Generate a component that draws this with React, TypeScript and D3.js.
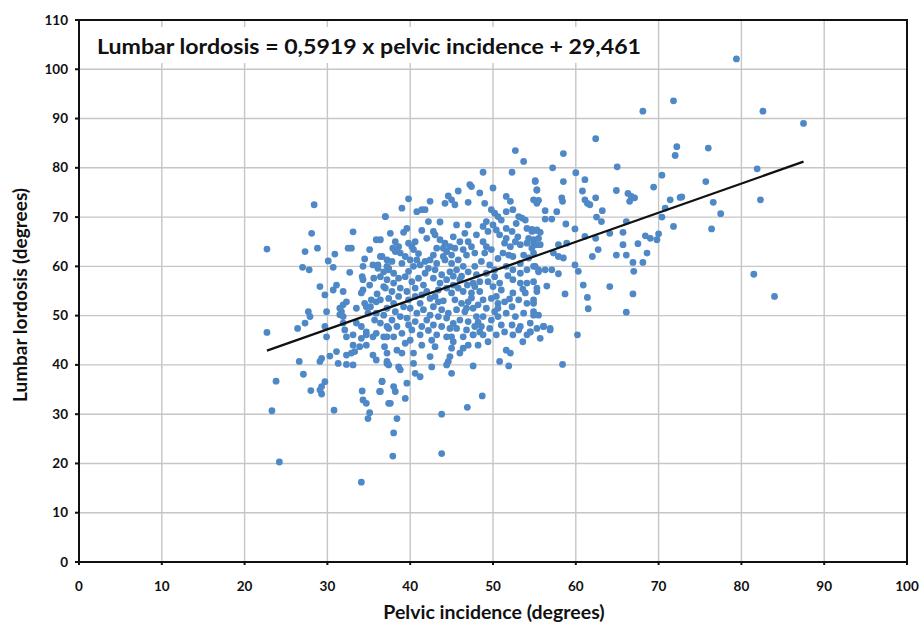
import React from "react";
import * as d3 from "d3";

// [pelvic incidence, lumbar lordosis], grouped by region
const leftWing: [number, number][] = [
  [28.4,72.5],[37.0,70.1],[28.1,66.7],[33.1,67.0],[35.9,65.4],[22.7,63.5],[27.3,63.0],[28.8,63.7],
  [32.5,63.7],[32.9,63.7],[35.1,63.4],[30.9,62.5],[30.1,61.1],[27.0,59.8],[27.8,59.3],[30.7,59.8],
  [32.7,58.8],[34.5,61.5],[34.3,60.0],[34.2,57.9],[34.3,57.3],[35.5,60.3],[36.1,60.3],[36.6,62.0],
  [37.2,60.0],[37.4,59.3],[29.1,55.9],[31.1,56.2],[30.7,55.2],[29.7,54.2],[31.9,54.9],[34.3,55.2],
  [34.1,54.6],[35.1,56.2],[36.8,55.9],[32.3,52.8],[31.9,52.2],[31.5,51.5],[31.7,50.8],[31.5,50.2],
  [31.9,49.8],[33.5,51.5],[34.5,52.5],[34.7,51.8],[35.3,53.2],[35.9,52.8],[34.9,50.5],[35.9,50.5],
  [35.7,49.1],[29.9,50.8],[27.7,50.8],[27.9,49.8],[27.3,48.5],[26.4,47.4],[29.7,47.8],[22.7,46.6],
  [31.9,48.5],[32.1,47.1],[32.3,45.7],[33.5,48.5],[34.1,47.8],[34.7,46.7],[35.9,46.4],[35.5,45.7],
  [37.2,47.8],[36.8,45.7],[29.9,45.7],
];
const leftLow: [number, number][] = [
  [33.1,46.1],[34.1,45.4],[34.7,46.1],[37.2,45.7],[33.1,44.0],[33.9,43.7],[34.7,44.0],[31.1,42.7],
  [32.3,42.0],[32.9,42.4],[33.3,42.7],[30.3,41.8],[29.3,41.3],[29.1,40.7],[26.6,40.7],[31.3,40.3],
  [32.3,40.1],[33.1,40.0],[35.5,42.0],[35.9,41.0],[37.2,42.4],[37.2,40.3],[27.1,38.1],[23.8,36.7],
  [29.7,36.6],[29.3,35.6],[29.1,34.9],[29.3,34.1],[28.0,34.8],[34.2,34.7],[36.3,34.6],[36.6,36.7],
  [34.3,32.9],[34.7,32.2],[35.1,30.3],[34.9,29.1],[37.4,32.2],[23.3,30.7],[30.8,30.8],[24.2,20.3],
  [34.1,16.2],
];
const middleLow: [number, number][] = [
  [39.0,42.4],[37.2,40.7],[37.4,40.0],[38.6,39.6],[38.8,39.0],[40.4,40.3],[40.6,38.3],[41.2,37.6],
  [42.6,39.6],[44.4,40.0],[44.6,40.7],[44.8,41.7],[45.0,38.3],[45.0,43.4],[45.0,45.7],[46.4,43.4],
  [47.0,44.0],[48.2,44.0],[47.6,46.1],[48.4,46.7],[47.6,39.8],[50.8,40.7],[51.6,43.0],[52.1,42.4],
  [51.9,39.8],[51.4,46.7],[53.1,47.1],[54.5,46.7],[36.6,36.6],[36.4,34.6],[38.0,35.6],[38.2,34.6],
  [39.6,36.3],[39.4,33.2],[37.6,32.2],[38.4,29.1],[38.0,26.2],[37.9,21.5],[43.8,30.0],[43.8,22.0],
  [46.9,31.4],[48.7,33.7],[56.1,47.8],[56.9,47.1],[55.7,45.4],[60.2,46.1],[58.4,40.1],
];
const rightWing: [number, number][] = [
  [62.4,85.9],[72.2,84.3],[72.0,82.5],[58.5,82.9],[57.2,80.0],[65.0,80.2],[60.0,79.0],[70.4,78.5],
  [55.1,77.4],[58.5,77.2],[61.1,77.6],[55.3,75.5],[55.5,73.4],[60.8,75.3],[64.9,75.4],[69.4,76.1],
  [58.3,73.9],[58.4,73.2],[61.1,73.5],[61.4,72.8],[61.7,72.5],[62.4,73.9],[66.3,74.8],[66.7,74.2],
  [67.1,73.9],[66.5,73.2],[71.4,73.5],[72.6,74.0],[56.3,71.3],[57.7,71.1],[63.2,71.3],[70.8,71.8],
  [70.4,70.0],[56.3,69.6],[57.1,69.6],[62.5,70.0],[63.1,69.1],[66.1,69.1],[58.8,68.6],[71.8,68.1],
  [59.9,67.6],[54.7,67.5],[55.1,67.3],[55.7,66.9],[64.1,66.7],[65.7,66.9],[61.1,66.1],[62.4,65.7],
  [68.4,66.2],[69.0,65.7],[69.8,65.4],[70.0,66.6],[55.5,65.7],[55.7,64.4],[54.9,64.7],[57.9,64.4],
  [58.9,64.7],[65.7,64.4],[67.5,64.6],[62.7,63.4],[57.3,62.7],[57.9,62.0],[58.5,61.7],[62.0,62.0],
  [64.9,62.3],[66.1,62.3],[68.6,62.7],[66.9,60.8],[68.1,60.8],[55.1,60.0],[55.5,59.3],[56.3,59.3],
  [57.1,59.3],[59.9,60.3],[60.3,59.0],[57.9,58.5],[67.0,59.0],[60.9,56.2],[64.1,55.9],[56.5,56.0],
  [55.3,54.9],[58.7,54.4],[61.4,53.7],[61.5,51.4],[66.9,54.4],[54.9,52.5],[66.1,50.7],[54.9,50.1],
  [55.5,50.1],[56.1,47.8],[56.9,47.4],[54.5,46.7],
];
const farRight: [number, number][] = [
  [79.4,102.1],[82.6,91.5],[87.5,89.0],[76.0,84.0],[81.9,79.8],[75.7,77.2],[72.8,74.1],[82.3,73.5],
  [76.6,73.0],[77.5,70.7],[76.4,67.6],[81.5,58.4],[84.0,53.9],[71.8,93.6],[68.1,91.5],[52.7,83.5],
];
const coreUpper: [number, number][] = [
  [53.7,81.3],[48.8,79.1],[52.3,79.1],[55.1,77.2],[47.2,76.6],[47.4,76.2],[45.8,75.3],[48.4,74.9],
  [50.0,75.9],[55.3,75.5],[44.6,74.3],[45.0,73.5],[51.6,74.2],[52.1,73.2],[39.8,73.7],[42.4,73.2],
  [44.2,72.8],[45.4,72.5],[47.0,73.0],[49.0,72.8],[54.9,73.5],[55.3,72.8],[39.0,71.8],[37.0,70.1],
  [40.8,71.1],[41.4,71.5],[41.8,71.5],[49.8,71.5],[50.2,70.8],[50.6,70.1],[51.0,69.4],[51.6,71.1],
  [52.4,71.5],[53.1,70.1],[53.5,69.8],[53.9,69.4],[42.2,69.1],[43.6,69.0],[45.6,68.4],[47.0,68.4],
  [49.2,69.1],[48.8,68.1],[49.4,67.1],[41.4,67.3],[42.8,67.1],[43.0,66.4],[39.2,66.9],[50.4,67.4],
  [50.8,66.4],[51.6,67.7],[52.3,67.1],[51.6,65.7],[54.1,67.7],[54.7,67.1],[55.3,67.4],[54.3,65.7],
  [54.9,65.4],[36.4,65.4],[38.2,65.0],[38.6,64.0],[38.2,63.0],[38.8,62.7],[39.8,64.7],[40.2,64.0],
  [40.4,63.4],[43.6,65.4],[44.2,64.7],[44.8,64.0],[45.4,63.7],[44.0,63.7],[44.4,63.0],[45.0,62.3],
  [46.0,65.0],[47.0,65.0],[47.4,64.0],[46.4,63.4],[48.8,65.0],[49.2,64.0],[49.8,63.4],[49.0,62.7],
  [51.4,64.7],[52.1,64.0],[52.7,65.0],[53.3,64.4],[54.1,64.7],[54.7,63.7],[55.3,64.4],[51.2,62.7],
  [51.9,62.3],[52.4,62.0],[53.7,62.3],[54.3,61.7],[54.9,62.7],
];
const coreMiddle: [number, number][] = [
  [36.4,62.0],[37.2,61.3],[37.8,61.0],[37.4,59.6],[38.0,58.6],[36.8,58.9],[39.4,62.0],[40.0,61.3],
  [40.8,61.3],[40.4,60.0],[41.2,60.3],[41.8,61.0],[42.8,62.3],[42.4,61.3],[43.2,60.6],[42.2,59.6],
  [43.0,59.3],[44.2,61.3],[45.0,60.6],[45.8,61.3],[46.4,60.0],[45.6,59.3],[47.0,58.9],[47.8,60.0],
  [48.0,58.3],[48.6,61.0],[49.6,60.3],[50.2,59.3],[49.2,58.6],[51.6,60.0],[52.4,59.3],[53.3,58.6],
  [54.1,59.3],[54.9,60.0],[55.5,58.9],[36.4,57.9],[37.2,57.3],[38.0,56.6],[38.6,57.6],[37.0,55.6],
  [37.8,54.9],[39.4,57.9],[40.2,56.9],[41.0,57.6],[41.6,56.2],[40.6,55.6],[42.0,54.9],[39.6,54.9],
  [42.8,57.6],[43.6,56.6],[44.4,57.3],[43.4,55.2],[44.4,55.6],[45.2,56.2],[45.0,54.6],[46.0,57.3],
  [46.9,56.2],[47.6,56.6],[48.4,56.9],[46.4,54.9],[47.4,54.6],[48.4,54.9],[49.4,56.9],[50.2,57.9],
  [50.0,55.9],[51.0,55.2],[50.4,53.9],[52.4,57.3],[53.3,56.6],[54.1,56.6],[54.9,56.9],[55.3,55.6],
  [53.9,54.6],[52.4,54.6],
];
const coreLower: [number, number][] = [
  [36.4,53.2],[37.4,53.5],[38.0,52.5],[37.2,51.5],[38.2,50.8],[36.8,50.1],[37.8,49.1],[38.8,49.8],
  [38.4,47.8],[37.4,47.4],[39.0,46.4],[38.0,45.7],[39.8,53.2],[40.6,53.9],[41.2,52.5],[40.0,51.5],
  [40.8,50.5],[41.6,51.2],[39.6,49.5],[40.6,48.8],[41.4,47.8],[40.2,47.1],[41.2,46.1],[42.4,53.5],
  [43.4,52.8],[42.8,51.8],[43.8,51.2],[42.4,50.1],[43.4,49.8],[44.4,49.5],[42.8,48.1],[43.8,47.8],
  [44.8,47.4],[43.2,46.1],[44.4,45.7],[45.4,53.2],[46.2,52.5],[47.0,52.8],[45.6,51.2],[46.6,50.8],
  [47.6,51.5],[46.0,49.1],[47.0,48.8],[48.0,49.8],[45.6,47.4],[46.8,47.1],[47.8,47.8],[46.4,45.7],
  [47.6,46.1],[48.8,53.2],[49.8,53.5],[50.6,52.5],[49.2,51.5],[50.2,50.8],[48.8,49.8],[49.8,49.1],
  [50.6,49.8],[48.6,47.8],[49.6,47.4],[48.8,46.1],[51.4,52.8],[52.3,51.8],[53.1,53.2],[54.1,52.5],
  [54.9,53.2],[51.6,50.5],[52.7,49.8],[53.7,50.5],[54.9,50.8],[52.3,48.1],[53.3,47.8],[54.5,48.5],
  [55.3,47.4],[52.4,46.1],[54.1,46.1],
];
const coreFill: [number, number][] = [
  [39.0,60.6],[39.8,59.0],[41.8,58.6],[43.8,58.3],[44.8,58.9],[46.2,58.0],[38.8,55.6],[41.4,54.2],
  [43.0,53.9],[44.0,53.0],[45.8,55.6],[47.8,55.9],[48.2,52.2],[46.8,51.5],[44.6,50.5],[42.0,49.1],
  [39.2,51.8],[38.6,53.9],[40.0,45.0],[42.6,45.0],[45.2,44.7],[43.0,43.7],[41.4,44.0],[39.4,44.4],
  [36.9,43.7],[44.0,62.0],[46.8,62.3],[47.8,62.7],[43.2,63.7],[41.0,62.6],[40.6,65.0],[42.0,65.7],
  [45.2,66.0],[46.6,66.7],[48.0,66.4],[50.0,68.4],[53.0,66.0],[52.8,68.7],[50.6,61.6],[53.3,60.6],
  [51.8,58.1],[50.8,56.6],[53.6,55.4],[52.0,53.4],[50.6,51.5],[47.4,53.6],[45.2,58.0],[39.6,67.7],
  [37.6,66.7],[37.9,63.7],[36.1,59.6],[35.6,57.6],[36.0,54.4],[35.2,51.8],[36.4,48.5],[39.8,48.1],
  [42.2,47.0],[45.2,48.4],[48.2,48.7],[51.0,48.1],[50.4,46.1],[49.4,44.7],[53.6,44.7],[46.0,42.4],
  [42.4,41.7],[40.4,42.4],[38.4,43.0],
];

const xTicks = [0, 10, 20, 30, 40, 50, 60, 70, 80, 90, 100];
const yTicks = [0, 10, 20, 30, 40, 50, 60, 70, 80, 90, 100, 110];
const slope = 0.5919;
const intercept = 29.461;
const fitRange = [22.7, 87.5];
const equation = "Lumbar lordosis = 0,5919 x pelvic incidence + 29,461";
const xTitle = "Pelvic incidence (degrees)";
const yTitle = "Lumbar lordosis (degrees)";

const W = 920, H = 624;
const L = 79, R = 907, T = 20, B = 562;
const FONT = "Lato, 'Open Sans', sans-serif";

export default function App() {
  const x = d3.scaleLinear().domain([0, 100]).range([L, R]);
  const y = d3.scaleLinear().domain([0, 110]).range([B, T]);
  const all = [...leftWing, ...leftLow, ...middleLow, ...rightWing, ...farRight, ...coreUpper, ...coreMiddle, ...coreLower, ...coreFill];
  const line = d3.line<number>().x((v) => x(v)).y((v) => y(slope * v + intercept));
  return (
    <svg width={W} height={H} style={{ position: "absolute", left: 0, top: 0, background: "#fff" }} fontFamily={FONT}>
      <rect x={0} y={0} width={W} height={H} fill="#fff" />
      {xTicks.slice(1, -1).map((t) => (
        <line key={"gx" + t} x1={x(t)} x2={x(t)} y1={T} y2={B} stroke="#c6c6c6" strokeWidth={1.4} />
      ))}
      {yTicks.slice(1, -1).map((t) => (
        <line key={"gy" + t} x1={L} x2={R} y1={y(t)} y2={y(t)} stroke="#c6c6c6" strokeWidth={1.4} />
      ))}
      <rect x={94} y={27} width={552} height={36} fill="#fff" />
      <text x={97} y={54} fontSize={21} fontWeight={700} fill="#111" textLength={544} lengthAdjust="spacingAndGlyphs">{equation}</text>
      {all.map((p, i) => (
        <circle key={i} cx={x(p[0])} cy={y(p[1])} r={3.4} fill="#4f88c6" />
      ))}
      <path d={line(fitRange) || ""} stroke="#111" strokeWidth={2.2} fill="none" />
      <rect x={L} y={T} width={R - L} height={B - T} fill="none" stroke="#111" strokeWidth={2} />
      {xTicks.map((t) => (
        <g key={"tx" + t}>
          <line x1={x(t)} x2={x(t)} y1={B} y2={B + 3} stroke="#111" strokeWidth={2} />
          <text x={x(t)} y={591} fontSize={13.5} fontWeight={700} textAnchor="middle" fill="#111">{t}</text>
        </g>
      ))}
      {yTicks.map((t) => (
        <g key={"ty" + t}>
          <line x1={L - 4} x2={L} y1={y(t)} y2={y(t)} stroke="#111" strokeWidth={2} />
          <text x={68} y={y(t) + 4.5} fontSize={13.5} fontWeight={700} textAnchor="end" fill="#111">{t}</text>
        </g>
      ))}
      <text x={494} y={619} fontSize={19.5} fontWeight={700} textAnchor="middle" fill="#111">{xTitle}</text>
      <text transform={`translate(27,${295}) rotate(-90)`} fontSize={19} fontWeight={700} textAnchor="middle" fill="#111">{yTitle}</text>
    </svg>
  );
}
